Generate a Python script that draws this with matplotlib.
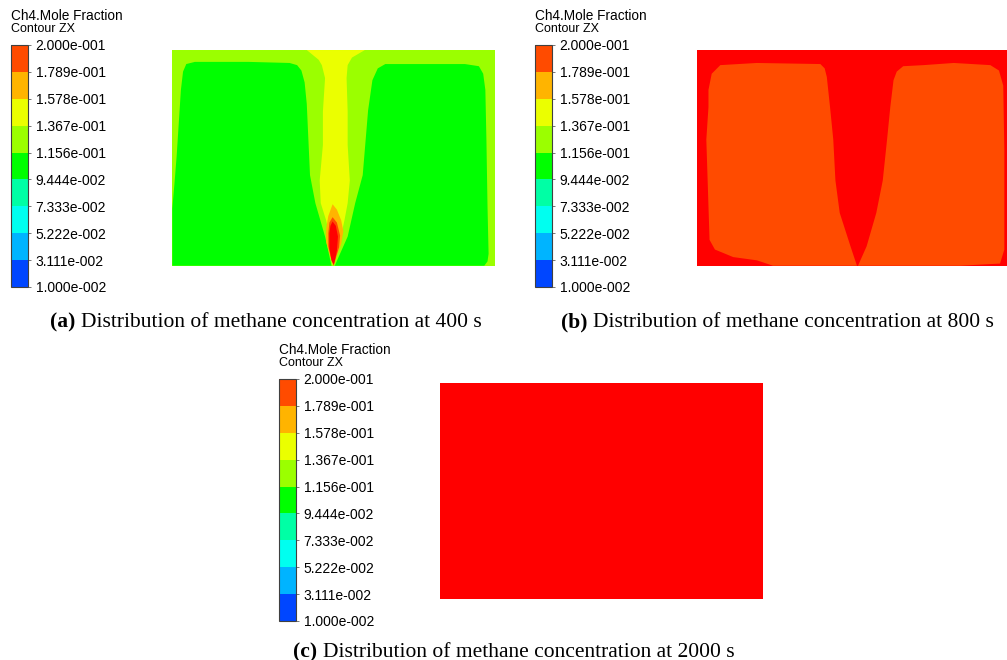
import matplotlib
matplotlib.use("Agg")
import matplotlib.pyplot as plt
from matplotlib.colors import ListedColormap, BoundaryNorm
from matplotlib.cm import ScalarMappable
from matplotlib.offsetbox import TextArea, HPacker, AnchoredOffsetbox

plt.rcParams["font.family"] = ["Liberation Sans", "DejaVu Sans"]

# contour levels as printed on the legend
level_labels = ["1.000e-002", "3.111e-002", "5.222e-002", "7.333e-002", "9.444e-002",
                "1.156e-001", "1.367e-001", "1.578e-001", "1.789e-001", "2.000e-001"]
band_colors = ["#0046ff", "#00b4ff", "#00fff0", "#00ffa5", "#00ff00",
               "#9bff00", "#ebff00", "#ffb400", "#ff4b00"]
over_color = "#ff0000"

# ZX section of the domain (m)
domain_w = 3.0
domain_h = 2.0

# t = 400 s: mole fraction of each region
bg_400 = 0.126
block_val_400 = 0.105
plume_val_400 = 0.147
core_vals_400 = [0.168, 0.190, 0.210]

left_block_400 = [(0.00, 0.00), (0.00, 0.53), (0.02, 0.76), (0.04, 1.01), (0.06, 1.32),
                  (0.08, 1.63), (0.10, 1.80), (0.13, 1.87), (0.21, 1.89), (0.71, 1.89),
                  (1.09, 1.88), (1.16, 1.86), (1.20, 1.81), (1.23, 1.70), (1.25, 1.50),
                  (1.26, 1.28), (1.28, 0.84), (1.33, 0.58), (1.42, 0.27), (1.48, 0.00)]
right_block_400 = [(1.51, 0.00), (1.63, 0.27), (1.70, 0.58), (1.77, 0.84), (1.80, 1.20),
                   (1.82, 1.44), (1.86, 1.72), (1.91, 1.83), (1.98, 1.87), (2.10, 1.87),
                   (2.72, 1.87), (2.85, 1.85), (2.89, 1.78), (2.91, 1.63), (2.92, 1.16),
                   (2.93, 0.55), (2.94, 0.11), (2.93, 0.04), (2.90, 0.00)]
plume_400 = [(1.25, 2.00), (1.36, 1.91), (1.39, 1.86), (1.42, 1.74), (1.40, 1.43),
             (1.40, 1.12), (1.37, 0.79), (1.38, 0.58), (1.43, 0.42), (1.47, 0.24),
             (1.49, 0.00), (1.56, 0.24), (1.60, 0.42), (1.63, 0.58), (1.65, 0.79),
             (1.63, 1.12), (1.63, 1.43), (1.62, 1.74), (1.63, 1.86), (1.67, 1.93),
             (1.79, 2.00)]
core_orange_400 = [(1.49, 0.57), (1.53, 0.52), (1.57, 0.42), (1.59, 0.32), (1.57, 0.20),
                   (1.52, 0.07), (1.50, 0.00), (1.47, 0.08), (1.43, 0.22), (1.43, 0.34),
                   (1.45, 0.46)]
core_mid_400 = [(1.49, 0.45), (1.53, 0.40), (1.56, 0.28), (1.55, 0.17), (1.51, 0.04),
                (1.50, 0.00), (1.48, 0.05), (1.45, 0.18), (1.45, 0.30), (1.46, 0.40)]
core_peak_400 = [(1.49, 0.41), (1.52, 0.37), (1.54, 0.27), (1.53, 0.14), (1.51, 0.04),
                 (1.50, 0.01), (1.48, 0.05), (1.46, 0.16), (1.46, 0.30), (1.47, 0.37)]

# t = 800 s
bg_800 = 0.210
block_val_800 = 0.190
left_block_800 = [(0.71, 0.00), (0.56, 0.05), (0.34, 0.08), (0.17, 0.15), (0.12, 0.24),
                  (0.11, 0.55), (0.10, 0.86), (0.09, 1.17), (0.11, 1.47), (0.11, 1.63),
                  (0.14, 1.78), (0.22, 1.86), (0.56, 1.88), (1.15, 1.87), (1.19, 1.83),
                  (1.21, 1.75), (1.24, 1.47), (1.27, 1.17), (1.29, 0.79), (1.33, 0.49),
                  (1.43, 0.18), (1.49, 0.00)]
right_block_800 = [(1.50, 0.00), (1.58, 0.18), (1.67, 0.49), (1.73, 0.79), (1.77, 1.17),
                   (1.80, 1.47), (1.83, 1.72), (1.86, 1.80), (1.92, 1.85), (2.11, 1.86),
                   (2.39, 1.88), (2.73, 1.86), (2.81, 1.81), (2.85, 1.67), (2.86, 1.07),
                   (2.86, 0.15), (2.82, 0.02), (2.45, 0.00)]

# t = 2000 s: uniform
bg_2000 = 0.210

captions = [("(a)", "Distribution of methane concentration at 400 s"),
            ("(b)", "Distribution of methane concentration at 800 s"),
            ("(c)", "Distribution of methane concentration at 2000 s")]

levels = [float(s) for s in level_labels]
cmap = ListedColormap(band_colors)
cmap.set_over(over_color)
norm = BoundaryNorm(levels, cmap.N)

fig = plt.figure(figsize=(10.07, 6.6), dpi=100)


def draw_field(rect, background, regions):
    ax = fig.add_axes(rect)
    ax.fill([0, domain_w, domain_w, 0], [0, 0, domain_h, domain_h],
            color=cmap(norm(background)), lw=0)
    for poly, val in regions:
        xs, zs = zip(*poly)
        ax.fill(xs, zs, color=cmap(norm(val)), lw=0)
    ax.set_xlim(0, domain_w)
    ax.set_ylim(0, domain_h)
    ax.axis("off")
    return ax


def draw_legend(x0, y_bar, y_title):
    cax = fig.add_axes([x0, y_bar, 0.0169, 0.3667])
    sm = ScalarMappable(norm=norm, cmap=cmap)
    cb = fig.colorbar(sm, cax=cax, ticks=levels)
    cb.set_ticklabels(level_labels)
    cb.outline.set_edgecolor("#404040")
    cb.outline.set_linewidth(0.8)
    cax.tick_params(length=2.5, width=0.6, pad=3, labelsize=10, color="#606060")
    fig.text(x0, y_title, "Ch4.Mole Fraction", fontsize=9.8, va="center")
    fig.text(x0, y_title - 0.0195, "Contour ZX", fontsize=9, va="center")


def draw_caption(tag, text, x, y):
    parts = [TextArea(tag, textprops=dict(fontfamily="Liberation Serif", fontsize=15.5,
                                          fontweight="bold")),
             TextArea(text, textprops=dict(fontfamily="Liberation Serif", fontsize=15.5))]
    box = HPacker(children=parts, pad=0, sep=4, align="baseline")
    anchored = AnchoredOffsetbox(loc="center", child=box, pad=0, borderpad=0, frameon=False,
                                 bbox_to_anchor=(x, y), bbox_transform=fig.transFigure)
    fig.add_artist(anchored)


draw_field([0.1711, 0.5974, 0.3205, 0.3268], bg_400,
           [(left_block_400, block_val_400), (right_block_400, block_val_400),
            (plume_400, plume_val_400), (core_orange_400, core_vals_400[0]),
            (core_mid_400, core_vals_400[1]), (core_peak_400, core_vals_400[2])])
draw_field([0.6918, 0.5974, 0.3205, 0.3268], bg_800,
           [(left_block_800, block_val_800), (right_block_800, block_val_800)])
draw_field([0.4369, 0.0924, 0.3205, 0.3268], bg_2000, [])

draw_legend(0.0109, 0.5652, 0.9758)
draw_legend(0.5313, 0.5652, 0.9758)
draw_legend(0.2771, 0.0591, 0.4697)

draw_caption(*captions[0], 0.264, 1 - 322 / 660)
draw_caption(*captions[1], 0.772, 1 - 322 / 660)
draw_caption(*captions[2], 0.510, 1 - 652 / 660)

fig.savefig("out.png", dpi=100)
